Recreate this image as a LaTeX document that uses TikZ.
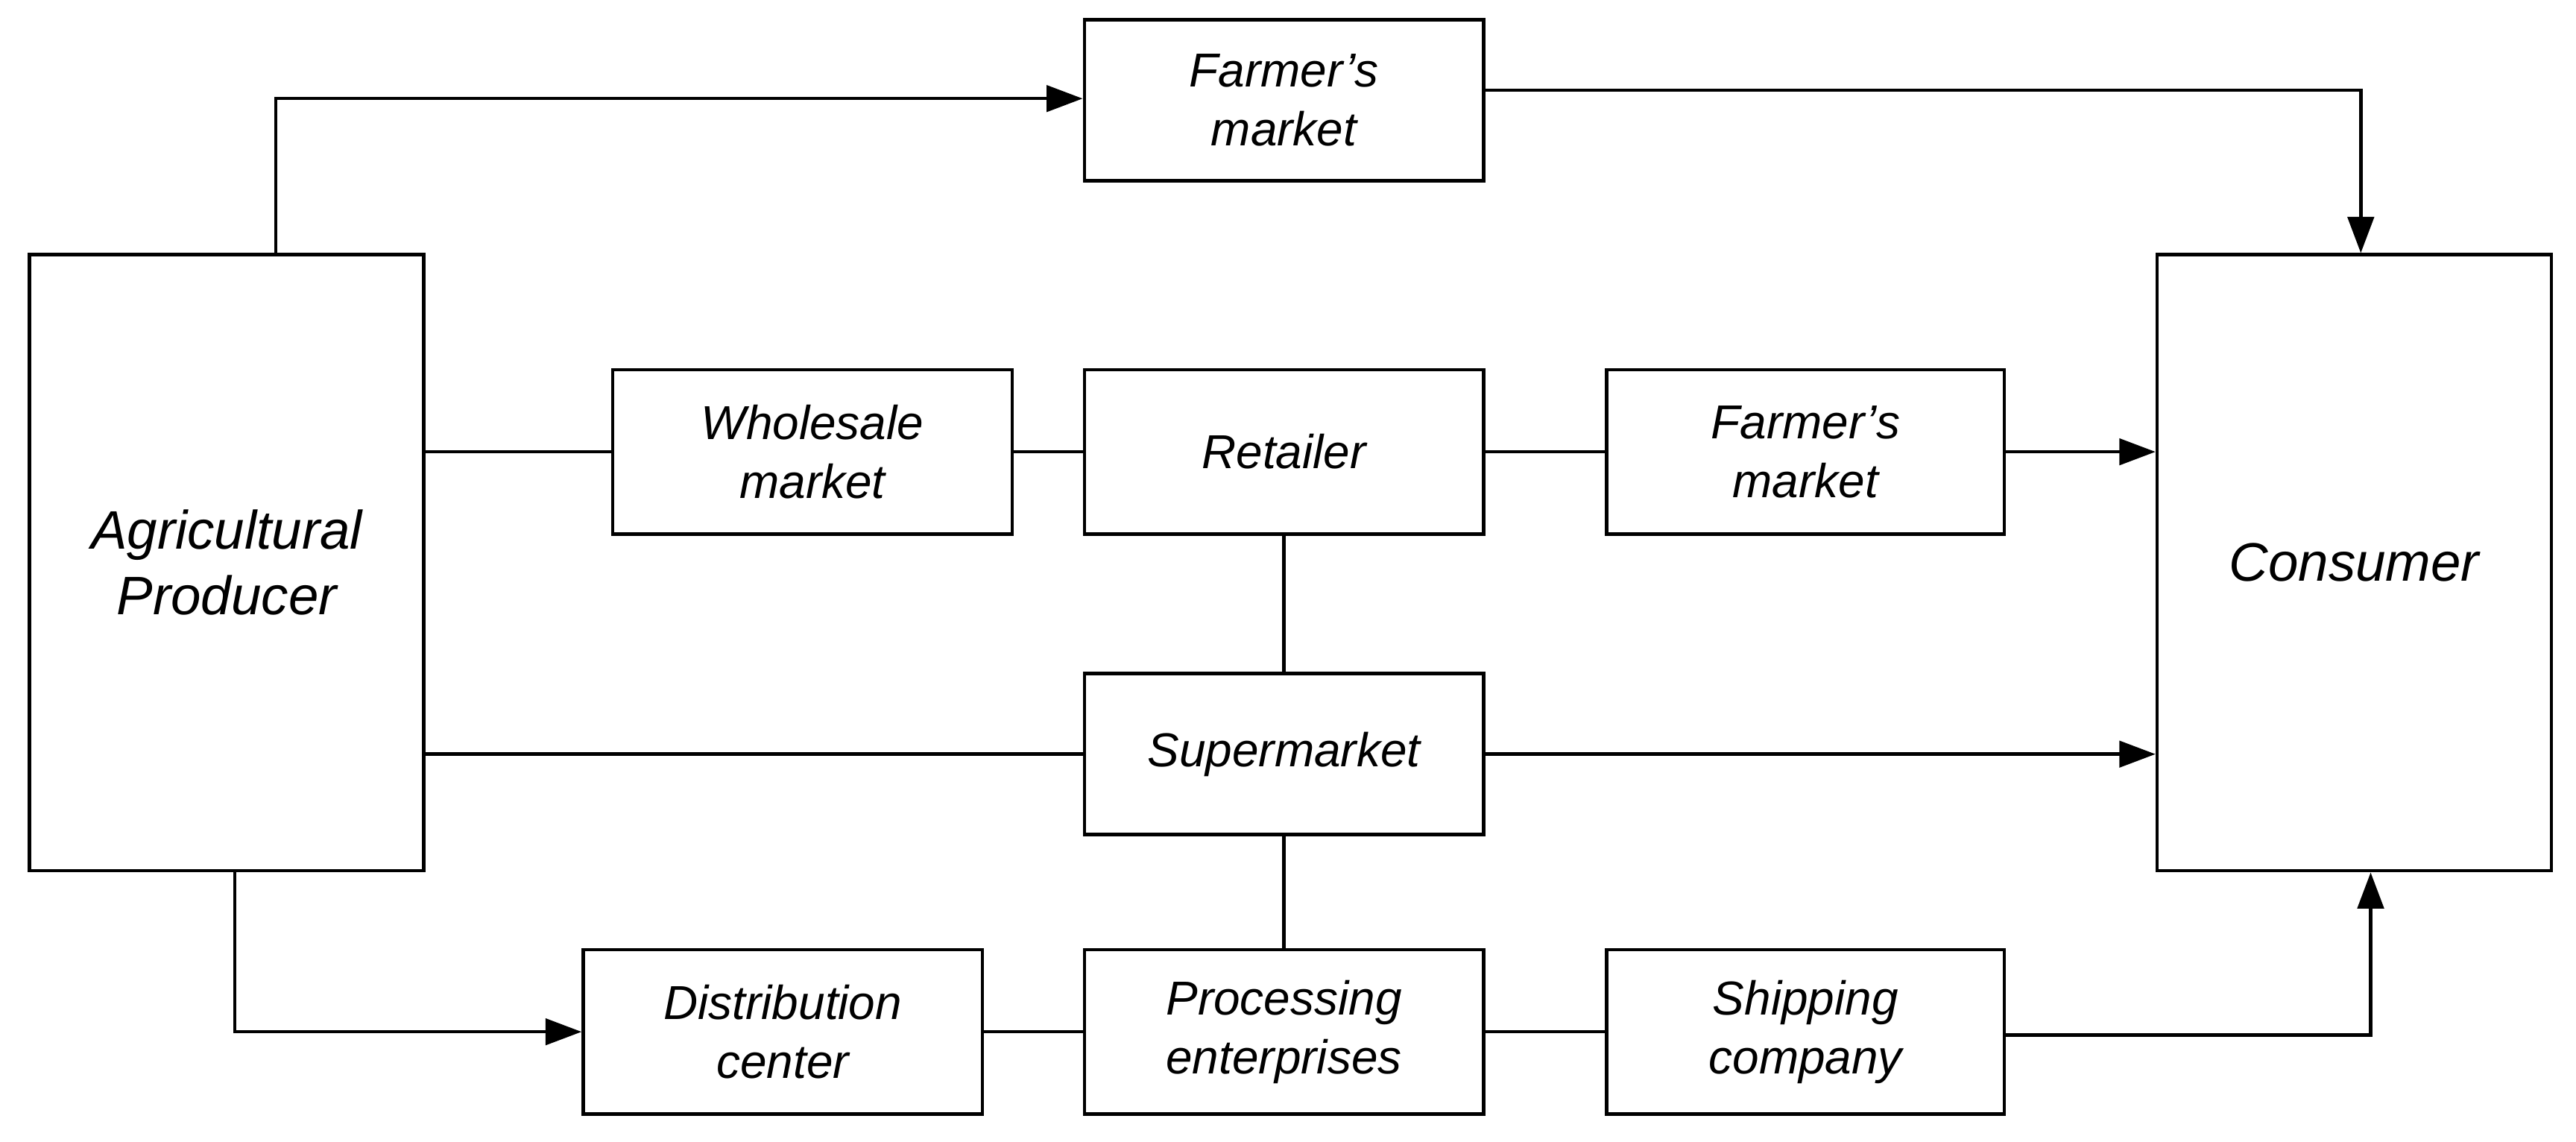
\documentclass[tikz,border=0pt]{standalone}
\usepackage{fontspec}
\setmainfont{Liberation Sans}
\usetikzlibrary{arrows.meta}
\begin{document}
\begin{tikzpicture}[x=1pt,y=-1pt,
  box/.style={draw,line width=2pt,inner sep=0pt,align=center,font=\fontsize{29}{36}\selectfont\itshape},
  con/.style={line width=2pt},
  arr/.style={con,-{Triangle[length=22pt,width=16pt]}}]
\useasboundingbox (0,0) rectangle (1568,695);
\fill[white] (0,0) rectangle (1568,695);
\node[box,minimum width=240pt,minimum height=375pt,font=\fontsize{33}{40}\selectfont\itshape] (prod) at (138,342.5) {Agricultural\\Producer};
\node[box,minimum width=240pt,minimum height=375pt,font=\fontsize{33}{40}\selectfont\itshape] (cons) at (1433,342.5) {Consumer};
\node[box,minimum width=243pt,minimum height=98pt] (fm1) at (781.5,61) {Farmer's\\market};
\node[box,minimum width=243pt,minimum height=100pt] (whole) at (494.5,275) {Wholesale\\market};
\node[box,minimum width=243pt,minimum height=100pt] (ret) at (781.5,275) {Retailer};
\node[box,minimum width=242pt,minimum height=100pt] (fm2) at (1099,275) {Farmer's\\market};
\node[box,minimum width=243pt,minimum height=98pt] (super) at (781.5,459) {Supermarket};
\node[box,minimum width=243pt,minimum height=100pt] (dist) at (476.5,628) {Distribution\\center};
\node[box,minimum width=243pt,minimum height=100pt] (proc) at (781.5,628) {Processing\\enterprises};
\node[box,minimum width=242pt,minimum height=100pt] (ship) at (1099,628) {Shipping\\company};
\coordinate (c1) at (168,60);
\coordinate (c2) at (1437,55);
\coordinate (c3) at (143,628);
\coordinate (c4) at (1443,630);
\draw[arr] (prod.north -| c1) |- (fm1.west |- c1);
\draw[arr] (fm1.east |- c2) -| (cons.north -| c2);
\draw[con] (prod.east |- whole) -- (whole.west);
\draw[con] (whole) -- (ret);
\draw[con] (ret) -- (fm2);
\draw[arr] (fm2.east) -- (cons.west |- fm2);
\draw[con] (ret) -- (super);
\draw[con] (prod.east |- super) -- (super.west);
\draw[arr] (super.east) -- (cons.west |- super);
\draw[con] (super) -- (proc);
\draw[arr] (prod.south -| c3) |- (dist.west);
\draw[con] (dist) -- (proc);
\draw[con] (proc) -- (ship);
\draw[arr] (ship.east |- c4) -| (cons.south -| c4);
\end{tikzpicture}
\end{document}
